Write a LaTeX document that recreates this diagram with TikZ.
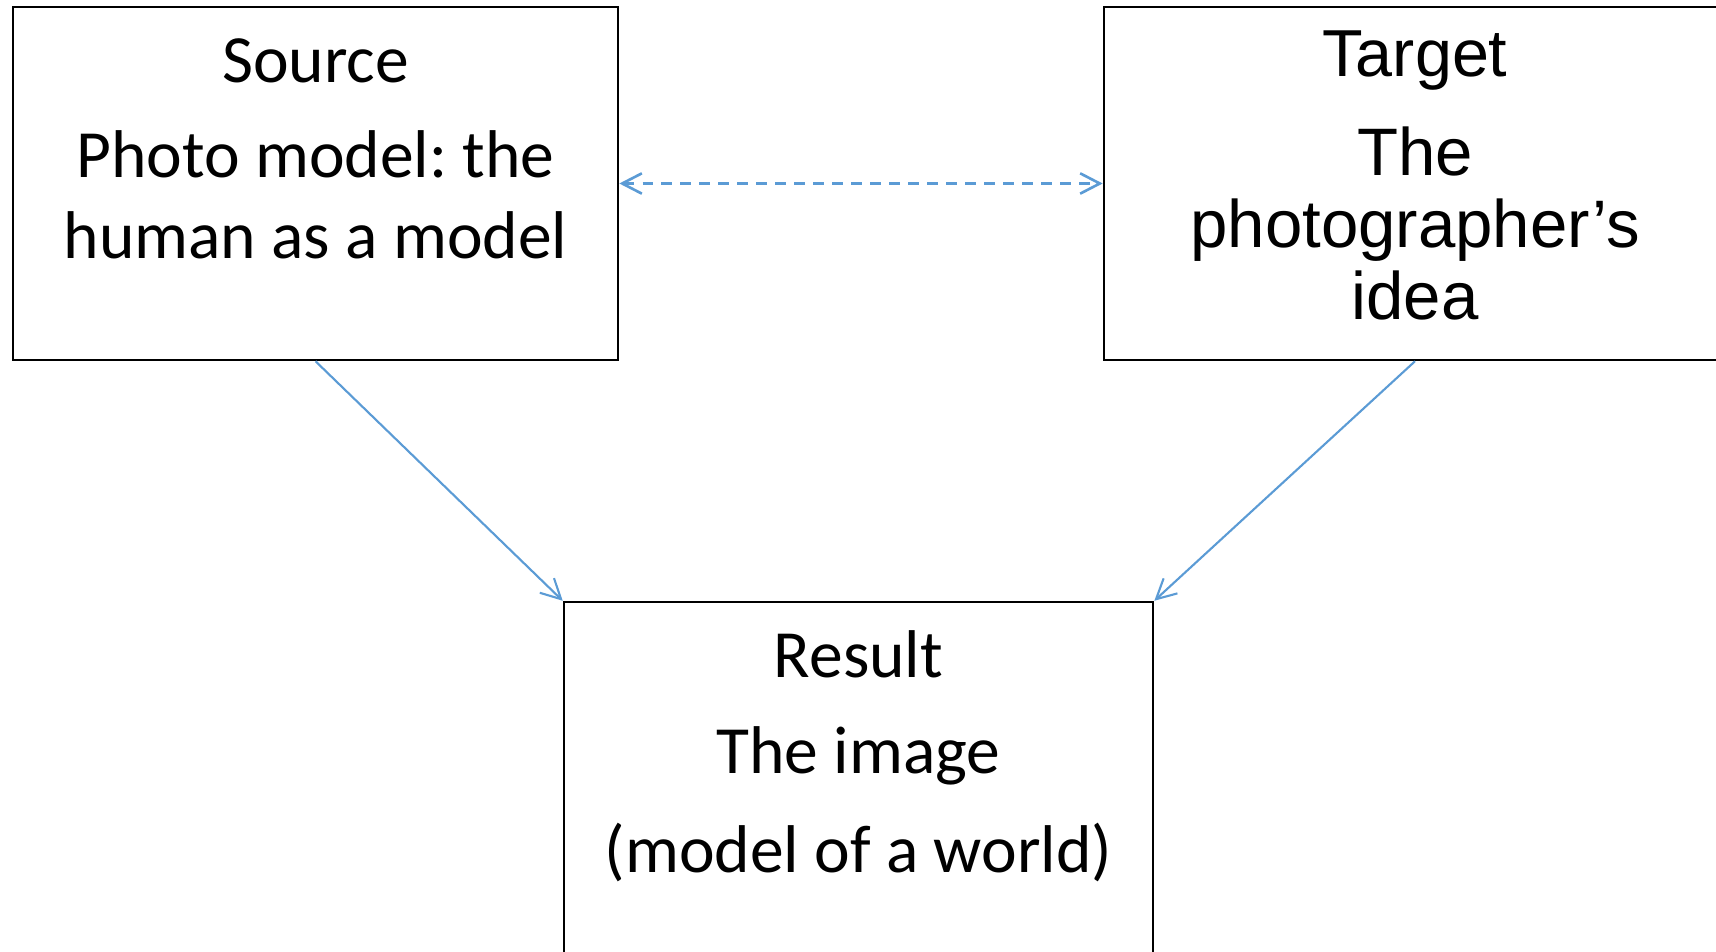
\documentclass[tikz,border=0pt]{standalone}
\usepackage{fontspec}
\setmainfont{Carlito}
\newfontfamily\arialfont{Liberation Sans}
\usepackage{tikz}
\usetikzlibrary{arrows.meta, positioning}
\definecolor{linkblue}{HTML}{5B9BD5}
\frenchspacing

\begin{document}
\begin{tikzpicture}[x=0.01cm,y=-0.01cm,>={Straight Barb[length=5.6pt,width=5.8pt]},
        box/.style={draw=black,line width=0.65pt,inner sep=0pt},
        link/.style={draw=linkblue,line width=0.6pt},
        hint/.style={draw=linkblue,line width=0.75pt,dash pattern=on 3.1pt off 2.3pt},
        calib/.style={inner sep=0pt,align=center,anchor=base,font=\fontsize{19.2}{23.3}\selectfont},
        arial/.style={inner sep=0pt,align=center,anchor=base,font=\arialfont\fontsize{19.1}{20.6}\selectfont}]

        \useasboundingbox (0,0) rectangle (1716,952);
        \clip (0,0) rectangle (1716,952);

        \node[box,minimum width=6.05cm,minimum height=3.53cm] (src) at (315.5,183.5) {};
        \node[box,minimum width=6.22cm,minimum height=3.53cm] (tgt) at (1415,183.5) {};
        \node[box,minimum width=5.89cm,minimum height=3.53cm] (res) at (858.5,778.5) {};

        % base of a multi-line node is its last line
        \node[calib] (srcname) at (315.5,83) {Source};
        \node[calib] (srctext) at (315.5,259) {Photo model: the\\human as a model};
        \node[arial,font=\arialfont\fontsize{18.9}{20}\selectfont] (tgtname) at (1415,77) {Target};
        \node[arial] (tgttext) at (1415,320) {The\\photographer’s\\idea};
        \node[calib] (resname) at (858.5,677) {Result};
        \node[calib,font=\fontsize{19.2}{27.9}\selectfont] (restext) at (858.5,872) {The image\\(model of a world)};

        \path[<->] (src.east) edge[hint] (tgt.west);
        \path[->] (src.south) edge[link] (res.north west)
                (tgt.south) edge[link] (res.north east);
    \end{tikzpicture}
\end{document}
